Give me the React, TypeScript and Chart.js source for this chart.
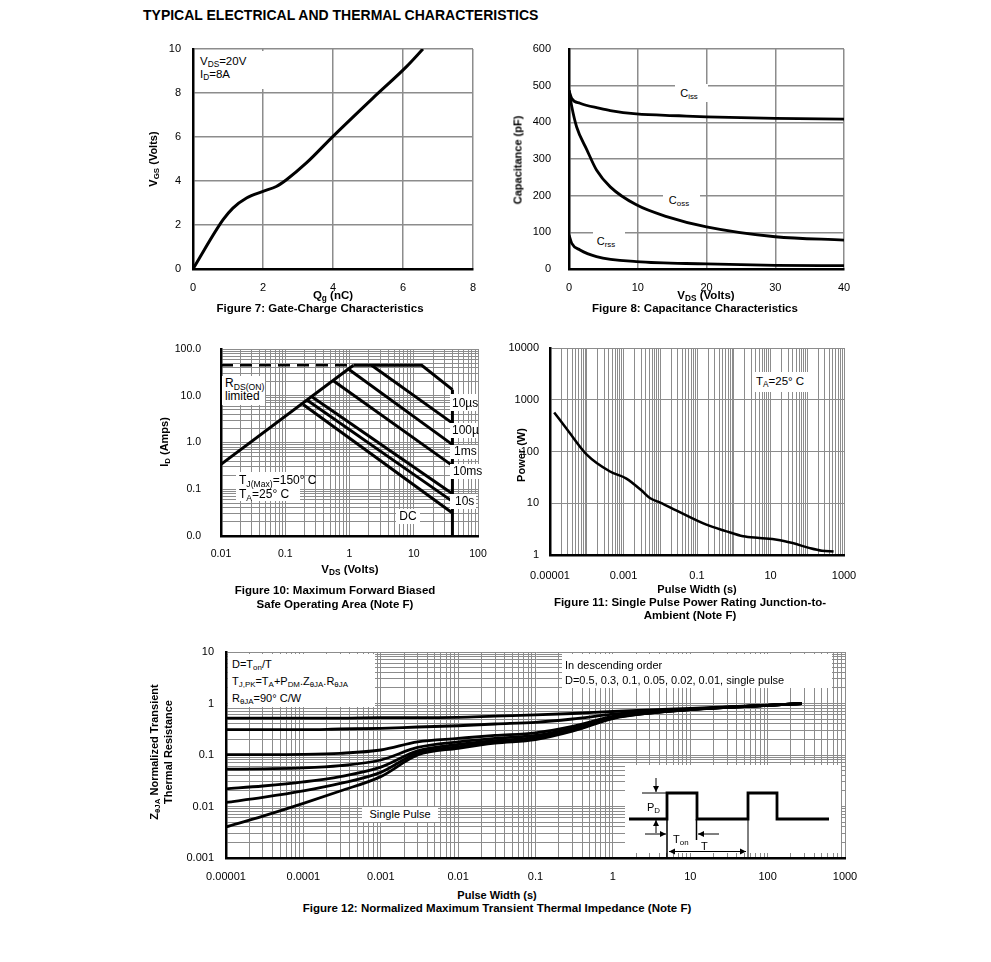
import React, { useEffect, useRef } from 'react';
import { Chart, registerables } from 'chart.js';
Chart.register(...registerables);

const FONT = "'Liberation Sans', Arial, Helvetica, sans-serif";
const GRID = '#8c8c8c';

// ---------- Figure 7: Gate charge ----------
const fig7Qg = [0, 0.86, 1.14, 1.53, 2.0, 2.38, 2.67, 3.24, 4.0, 5.14, 6.1, 6.57];
const fig7Vgs = [0, 2.24, 2.77, 3.23, 3.53, 3.75, 4.06, 4.82, 6.03, 7.77, 9.2, 10.0];
const fig7XTicks = [0, 2, 4, 6, 8];
const fig7YTicks = [0, 2, 4, 6, 8, 10];

// ---------- Figure 8: Capacitance ----------
const fig8CissV = [0, 0.4, 1.6, 4.5, 6, 9.8, 16, 20, 30, 40];
const fig8Ciss = [487, 465, 452, 438, 432, 423, 418, 415, 411, 409];
const fig8CossV = [0, 0.4, 1.1, 2.6, 4, 6, 9.8, 14.2, 20, 30, 40];
const fig8Coss = [487, 443, 388, 325, 270, 224, 175, 143, 115, 88, 79];
const fig8CrssV = [0, 0.4, 1.6, 4, 9.8, 20, 30, 40];
const fig8Crss = [93, 70, 52, 34, 20, 14, 10, 9];
const fig8XTicks = [0, 10, 20, 30, 40];
const fig8YTicks = [0, 100, 200, 300, 400, 500, 600];

// ---------- Figure 10: SOA ----------
const fig10LimitV = [0.01, 1.15];
const fig10LimitI = [45, 45];
const fig10RdsV = [0.01, 1.15];
const fig10RdsI = [0.34, 45];
const fig10P10usV = [1.15, 13.3, 40];
const fig10P10usI = [45, 45, 13.5];
const fig10P100usV = [2.2, 40];
const fig10P100usI = [45, 2.6];
const fig10P1msV = [0.96, 40];
const fig10P1msI = [37.5, 0.9];
const fig10P10msV = [0.56, 40];
const fig10P10msI = [21, 0.32];
const fig10P100msV = [0.26, 40];
const fig10P100msI = [9.5, 0.08];
const fig10P10sV = [0.22, 40];
const fig10P10sI = [8.0, 0.055];
const fig10DcV = [0.19, 40];
const fig10DcI = [6.5, 0.031];
const fig10VmaxV = [40, 40];
const fig10VmaxI = [0.01, 13.5];
const fig10XTickValues = [0.01, 0.1, 1, 10, 100];
const fig10XTickLabels = ['0.01', '0.1', '1', '10', '100'];
const fig10YTickValues = [0.01, 0.1, 1, 10, 100];
const fig10YTickLabels = ['0.0', '0.1', '1.0', '10.0', '100.0'];

// ---------- Figure 11: Single pulse power ----------
const fig11T = [1.3e-5, 3e-5, 1e-4, 4.3e-4, 1.2e-3, 3e-3, 5.2e-3, 0.01, 0.028, 0.18, 0.6, 1.8, 5, 15, 40, 118, 250, 520];
const fig11P = [570, 260, 87, 41, 30, 18, 12.6, 10.3, 7.2, 3.85, 2.9, 2.3, 2.13, 1.98, 1.7, 1.36, 1.21, 1.17];
const fig11XTickValues = [1e-5, 1e-3, 0.1, 10, 1000];
const fig11XTickLabels = ['0.00001', '0.001', '0.1', '10', '1000'];
const fig11YTickValues = [1, 10, 100, 1000, 10000];
const fig11YTickLabels = ['1', '10', '100', '1000', '10000'];

// ---------- Figure 12: Transient thermal impedance ----------
const fig12X = [1e-5, 3e-5, 1e-4, 3e-4, 1e-3, 3e-3, 1e-2, 3e-2, 0.1, 0.3, 1, 3, 10, 30, 100, 275];
const fig12D050 = [0.52, 0.52, 0.52, 0.52, 0.53, 0.53, 0.54, 0.57, 0.6, 0.64, 0.7, 0.75, 0.8, 0.86, 0.93, 1.0];
const fig12D030 = [0.31, 0.31, 0.31, 0.32, 0.33, 0.35, 0.37, 0.4, 0.43, 0.5, 0.62, 0.7, 0.78, 0.85, 0.92, 1.0];
const fig12D010 = [0.102, 0.102, 0.103, 0.108, 0.125, 0.18, 0.21, 0.24, 0.27, 0.36, 0.56, 0.68, 0.77, 0.85, 0.92, 1.0];
const fig12D005 = [0.053, 0.054, 0.056, 0.062, 0.08, 0.14, 0.18, 0.21, 0.24, 0.33, 0.54, 0.67, 0.77, 0.84, 0.92, 1.0];
const fig12D002 = [0.022, 0.025, 0.03, 0.038, 0.058, 0.12, 0.16, 0.19, 0.22, 0.31, 0.53, 0.66, 0.76, 0.84, 0.92, 1.0];
const fig12D001 = [0.012, 0.015, 0.02, 0.028, 0.046, 0.11, 0.145, 0.18, 0.21, 0.3, 0.52, 0.65, 0.76, 0.84, 0.92, 1.0];
const fig12Single = [0.004, 0.0065, 0.0115, 0.02, 0.038, 0.1, 0.135, 0.17, 0.2, 0.29, 0.51, 0.65, 0.76, 0.84, 0.92, 1.0];
const fig12XTickValues = [1e-5, 1e-4, 1e-3, 0.01, 0.1, 1, 10, 100, 1000];
const fig12XTickLabels = ['0.00001', '0.0001', '0.001', '0.01', '0.1', '1', '10', '100', '1000'];
const fig12YTickValues = [0.001, 0.01, 0.1, 1, 10];
const fig12YTickLabels = ['0.001', '0.01', '0.1', '1', '10'];

// ---------- helpers ----------
function logGrid(minExp: number, maxExp: number, minor = true) {
  const out: number[] = [];
  for (let e = minExp; e < maxExp; e++) {
    const b = Math.pow(10, e);
    if (minor) for (let m = 1; m < 10; m++) out.push(m * b);
    else out.push(b);
  }
  out.push(Math.pow(10, maxExp));
  return out;
}

function labeler(values: number[], labels: string[]) {
  return (v: number) => {
    for (let i = 0; i < values.length; i++) {
      if (Math.abs(v - values[i]) <= Math.abs(values[i]) * 1e-6 + 1e-12) return labels[i];
    }
    return '';
  };
}

function axis(o: any) {
  return {
    type: o.type,
    min: o.min,
    max: o.max,
    afterBuildTicks: (s: any) => {
      s.ticks = o.grid.map((v: number) => ({ value: v }));
    },
    afterFit: (s: any) => {
      if (o.axis === 'x') {
        s.height = o.size;
        s.paddingLeft = 0;
        s.paddingRight = 0;
      } else {
        s.width = o.size;
        s.paddingTop = 0;
        s.paddingBottom = 0;
      }
    },
    ticks: {
      autoSkip: false,
      maxRotation: 0,
      minRotation: 0,
      padding: o.padding,
      color: '#000',
      font: { family: FONT, size: o.fontSize || 11 },
      callback: labeler(o.tickValues, o.tickLabels),
    },
    grid: { color: GRID, lineWidth: o.gridWidth || 1, drawTicks: false },
    border: { color: '#000', width: 2.5 },
  };
}

function series(xs: number[], ys: number[], extra: any = {}) {
  return {
    data: xs.map((x, i) => ({ x, y: ys[i] })),
    borderColor: '#000',
    borderWidth: 2.5,
    pointRadius: 0,
    fill: false,
    tension: 0.4,
    cubicInterpolationMode: 'monotone',
    ...extra,
  };
}

function config(datasets: any[], x: any, y: any, pad: { top: number; right: number }, plugins: any[] = []) {
  return {
    type: 'line',
    data: { datasets },
    options: {
      responsive: false,
      animation: false,
      events: [],
      layout: { padding: { top: pad.top, right: pad.right, left: 0, bottom: 0 } },
      plugins: { legend: { display: false }, tooltip: { enabled: false } },
      scales: { x, y },
    },
    plugins,
  };
}

function arrow(ctx: CanvasRenderingContext2D, x1: number, y1: number, x2: number, y2: number, both = false) {
  ctx.beginPath();
  ctx.moveTo(x1, y1);
  ctx.lineTo(x2, y2);
  ctx.stroke();
  const head = (ax: number, ay: number, bx: number, by: number) => {
    const ang = Math.atan2(by - ay, bx - ax);
    const L = 6, W = 3;
    ctx.beginPath();
    ctx.moveTo(bx, by);
    ctx.lineTo(bx - L * Math.cos(ang) + W * Math.sin(ang), by - L * Math.sin(ang) - W * Math.cos(ang));
    ctx.lineTo(bx - L * Math.cos(ang) - W * Math.sin(ang), by - L * Math.sin(ang) + W * Math.cos(ang));
    ctx.closePath();
    ctx.fill();
  };
  head(x1, y1, x2, y2);
  if (both) head(x2, y2, x1, y1);
}

// pulse-train schematic inside figure 12 (offsets relative to chart area)
const insetPlugin = {
  id: 'pulseInset',
  afterDatasetsDraw(chart: any) {
    const { ctx, chartArea: a } = chart;
    const X = (d: number) => a.left + d;
    const Y = (d: number) => a.top + d;
    ctx.save();
    ctx.fillStyle = '#fff';
    ctx.fillRect(X(399), Y(113), 216, 88);
    ctx.strokeStyle = '#000';
    ctx.fillStyle = '#000';
    ctx.lineJoin = 'miter';
    ctx.lineWidth = 2.8;
    ctx.beginPath();
    const wave = [[403, 167], [441, 167], [441, 141], [471, 141], [471, 167], [522, 167], [522, 141], [551, 141], [551, 167], [603, 167]];
    wave.forEach(([px, py], i) => (i ? ctx.lineTo(X(px), Y(py)) : ctx.moveTo(X(px), Y(py))));
    ctx.stroke();
    ctx.lineWidth = 1.5;
    ctx.beginPath();
    ctx.moveTo(X(441), Y(167)); ctx.lineTo(X(441), Y(206));
    ctx.moveTo(X(470.5), Y(167)); ctx.lineTo(X(470.5), Y(188));
    ctx.stroke();
    ctx.lineWidth = 1;
    ctx.beginPath();
    ctx.moveTo(X(522), Y(167)); ctx.lineTo(X(522), Y(206));
    ctx.moveTo(X(416), Y(141)); ctx.lineTo(X(441), Y(141));
    ctx.stroke();
    arrow(ctx, X(430), Y(126), X(430), Y(140));
    arrow(ctx, X(430), Y(181), X(430), Y(168));
    arrow(ctx, X(419), Y(182), X(440), Y(182));
    arrow(ctx, X(493), Y(182), X(472), Y(182));
    arrow(ctx, X(443), Y(199.5), X(520), Y(199.5), true);
    ctx.restore();
  },
};

// ---------- components ----------
function ChartBox({ left, top, width, height, build }: any) {
  const ref = useRef<HTMLCanvasElement>(null);
  useEffect(() => {
    const c = new Chart(ref.current as HTMLCanvasElement, build());
    return () => c.destroy();
  }, []);
  return (
    <canvas
      ref={ref}
      width={width}
      height={height}
      style={{ position: 'absolute', left, top, width, height, display: 'block' }}
    />
  );
}

const S = ({ children }: any) => (
  <span style={{ fontSize: '0.72em', position: 'relative', top: '0.3em' }}>{children}</span>
);

function Txt({ x, y, children, align = 'left', size = 11, bold = false, rotate = false, lh = 1 }: any) {
  let tf = align === 'center' ? 'translate(-50%,-50%)' : 'translate(0,-50%)';
  if (rotate) tf = 'translate(-50%,-50%) rotate(-90deg)';
  return (
    <div
      style={{
        position: 'absolute',
        left: x,
        top: y,
        transform: tf,
        whiteSpace: 'nowrap',
        fontSize: size,
        fontWeight: bold ? 'bold' : 'normal',
        lineHeight: lh,
        textAlign: align === 'center' || rotate ? 'center' : 'left',
      }}
    >
      {children}
    </div>
  );
}

const WBox = ({ x, y, w, h }: any) => (
  <div style={{ position: 'absolute', left: x, top: y, width: w, height: h, background: '#fff' }} />
);

// ---------- chart builders ----------
const build7 = () =>
  config(
    [series(fig7Qg, fig7Vgs, { tension: 0.3, borderWidth: 3 })],
    axis({ axis: 'x', type: 'linear', min: 0, max: 8, grid: fig7XTicks, tickValues: fig7XTicks, tickLabels: fig7XTicks.map(String), size: 30, padding: 12, gridWidth: 1.5 }),
    axis({ axis: 'y', type: 'linear', min: 0, max: 10, grid: fig7YTicks, tickValues: fig7YTicks, tickLabels: fig7YTicks.map(String), size: 50, padding: 12, gridWidth: 1.5 }),
    { top: 10, right: 30 }
  );

const build8 = () =>
  config(
    [series(fig8CissV, fig8Ciss, { borderWidth: 2.8 }), series(fig8CossV, fig8Coss, { borderWidth: 2.8 }), series(fig8CrssV, fig8Crss, { borderWidth: 2.8 })],
    axis({ axis: 'x', type: 'linear', min: 0, max: 40, grid: fig8XTicks, tickValues: fig8XTicks, tickLabels: fig8XTicks.map(String), size: 30, padding: 12, gridWidth: 1.5 }),
    axis({ axis: 'y', type: 'linear', min: 0, max: 600, grid: fig8YTicks, tickValues: fig8YTicks, tickLabels: fig8YTicks.map(String), size: 70, padding: 18, gridWidth: 1.5 }),
    { top: 10, right: 30 }
  );

const build10 = () => {
  const st = { tension: 0, cubicInterpolationMode: 'default', borderWidth: 3, borderJoinStyle: 'miter' };
  return config(
    [
      series(fig10LimitV, fig10LimitI, { ...st, borderWidth: 2.5, borderDash: [12, 7] }),
      series(fig10RdsV, fig10RdsI, st),
      series(fig10P10usV, fig10P10usI, st),
      series(fig10P100usV, fig10P100usI, st),
      series(fig10P1msV, fig10P1msI, st),
      series(fig10P10msV, fig10P10msI, st),
      series(fig10P100msV, fig10P100msI, st),
      series(fig10P10sV, fig10P10sI, st),
      series(fig10DcV, fig10DcI, st),
      series(fig10VmaxV, fig10VmaxI, st),
    ],
    axis({ axis: 'x', type: 'logarithmic', min: 0.01, max: 100, grid: logGrid(-2, 2), tickValues: fig10XTickValues, tickLabels: fig10XTickLabels, size: 30, padding: 12, fontSize: 10.5 }),
    axis({ axis: 'y', type: 'logarithmic', min: 0.01, max: 100, grid: logGrid(-2, 2), tickValues: fig10YTickValues, tickLabels: fig10YTickLabels, size: 50, padding: 20, fontSize: 10.5 }),
    { top: 10, right: 20 }
  );
};

const build11 = () =>
  config(
    [series(fig11T, fig11P)],
    axis({ axis: 'x', type: 'logarithmic', min: 1e-5, max: 1000, grid: logGrid(-5, 3), tickValues: fig11XTickValues, tickLabels: fig11XTickLabels, size: 35, padding: 14 }),
    axis({ axis: 'y', type: 'logarithmic', min: 1, max: 10000, grid: logGrid(0, 4, false), tickValues: fig11YTickValues, tickLabels: fig11YTickLabels, size: 55, padding: 11 }),
    { top: 10, right: 25 }
  );

const build12 = () =>
  config(
    [fig12D050, fig12D030, fig12D010, fig12D005, fig12D002, fig12D001, fig12Single].map((ys) => series(fig12X, ys, { borderWidth: 2.8 })),
    axis({ axis: 'x', type: 'logarithmic', min: 1e-5, max: 1000, grid: logGrid(-5, 3), tickValues: fig12XTickValues, tickLabels: fig12XTickLabels, size: 30, padding: 12 }),
    axis({ axis: 'y', type: 'logarithmic', min: 0.001, max: 10, grid: logGrid(-3, 1), tickValues: fig12YTickValues, tickLabels: fig12YTickLabels, size: 50, padding: 12 }),
    { top: 10, right: 25 },
    [insetPlugin]
  );

export default function App() {
  return (
    <div
      style={{
        position: 'absolute',
        left: 0,
        top: 0,
        width: 991,
        height: 962,
        background: '#fff',
        fontFamily: FONT,
        color: '#000',
        overflow: 'hidden',
      }}
    >
      <ChartBox left={143} top={39} width={360} height={260} build={build7} />
      <ChartBox left={499} top={39} width={375} height={260} build={build8} />
      <ChartBox left={171} top={339} width={327} height={227} build={build10} />
      <ChartBox left={495} top={338} width={374} height={252} build={build11} />
      <ChartBox left={176} top={642} width={694} height={246} build={build12} />

      <Txt x={143} y={15} size={14} bold>TYPICAL ELECTRICAL AND THERMAL CHARACTERISTICS</Txt>

      {/* Figure 7 */}
      <WBox x={195} y={51} w={71} h={38} />
      <Txt x={200} y={62} size={11.5}>V<S>DS</S>=20V</Txt>
      <Txt x={200} y={75} size={11.5}>I<S>D</S>=8A</Txt>
      <Txt x={153} y={159} size={11} bold rotate>V<S>GS</S> (Volts)</Txt>
      <Txt x={333} y={296} size={11.5} bold align="center">Q<S>g</S> (nC)</Txt>
      <Txt x={320} y={309} size={11.5} bold align="center">Figure 7: Gate-Charge Characteristics</Txt>

      {/* Figure 8 */}
      <WBox x={675} y={84} w={33} h={18} />
      <Txt x={689} y={93} size={11} align="center">C<S>iss</S></Txt>
      <WBox x={663} y={192} w={37} h={18} />
      <Txt x={679} y={200} size={11} align="center">C<S>oss</S></Txt>
      <WBox x={593} y={232} w={32} h={18} />
      <Txt x={606} y={241} size={11} align="center">C<S>rss</S></Txt>
      <Txt x={518} y={160} size={11} bold rotate>Capacitance (pF)</Txt>
      <Txt x={706} y={296} size={11.5} bold align="center">V<S>DS</S> (Volts)</Txt>
      <Txt x={695} y={309} size={11.5} bold align="center">Figure 8: Capacitance Characteristics</Txt>

      {/* Figure 10 */}
      <WBox x={222} y={376} w={43} h={29} />
      <Txt x={225} y={383} size={12}>R<S>DS(ON)</S></Txt>
      <Txt x={225} y={396} size={12}>limited</Txt>
      <WBox x={236} y={472} w={64} h={29} />
      <Txt x={239} y={480} size={12}>T<S>J(Max)</S>=150° C</Txt>
      <Txt x={239} y={494} size={12}>T<S>A</S>=25° C</Txt>
      <WBox x={450} y={394} w={28} h={17} />
      <Txt x={452} y={403} size={12}>10µs</Txt>
      <WBox x={450} y={423} w={28} h={15} />
      <Txt x={452} y={430} size={12}>100µ</Txt>
      <WBox x={450} y={445} w={28} h={14} />
      <Txt x={454} y={451} size={12}>1ms</Txt>
      <WBox x={450} y={464} w={33} h={15} />
      <Txt x={453} y={471} size={12}>10ms</Txt>
      <WBox x={450} y={494} w={26} h={15} />
      <Txt x={455} y={501} size={12}>10s</Txt>
      <WBox x={396} y={509} w={24} h={15} />
      <Txt x={408} y={516} size={12} align="center">DC</Txt>
      <Txt x={164} y={442} size={11} bold rotate>I<S>D</S> (Amps)</Txt>
      <Txt x={350} y={570} size={11.5} bold align="center">V<S>DS</S> (Volts)</Txt>
      <Txt x={335} y={591} size={11.5} bold align="center">Figure 10: Maximum Forward Biased</Txt>
      <Txt x={335} y={605} size={11.5} bold align="center">Safe Operating Area (Note F)</Txt>

      {/* Figure 11 */}
      <WBox x={752} y={372} w={62} h={20} />
      <Txt x={756} y={382} size={11.5}>T<S>A</S>=25° C</Txt>
      <Txt x={521} y={455} size={11} bold rotate>Power (W)</Txt>
      <Txt x={697} y={589} size={11} bold align="center">Pulse Width (s)</Txt>
      <Txt x={690} y={603} size={11.5} bold align="center">Figure 11: Single Pulse Power Rating Junction-to-</Txt>
      <Txt x={690} y={616} size={11.5} bold align="center">Ambient (Note F)</Txt>

      {/* Figure 12 */}
      <WBox x={228} y={654} w={147} h={53} />
      <Txt x={232} y={664} size={11}>D=T<S>on</S>/T</Txt>
      <Txt x={232} y={681} size={11}>T<S>J,PK</S>=T<S>A</S>+P<S>DM</S>.Z<S>θJA</S>.R<S>θJA</S></Txt>
      <Txt x={232} y={698} size={11}>R<S>θJA</S>=90° C/W</Txt>
      <WBox x={562} y={654} w={270} h={34} />
      <Txt x={565} y={665} size={11}>In descending order</Txt>
      <Txt x={565} y={680} size={11}>D=0.5, 0.3, 0.1, 0.05, 0.02, 0.01, single pulse</Txt>
      <WBox x={362} y={807} w={76} h={15} />
      <Txt x={400} y={814} size={11} align="center">Single Pulse</Txt>
      <Txt x={647} y={807} size={11}>P<S>D</S></Txt>
      <Txt x={673} y={839} size={11}>T<S>on</S></Txt>
      <Txt x={701} y={846} size={11}>T</Txt>
      <div style={{ position: 'absolute', left: 161, top: 752, transform: 'translate(-50%,-50%) rotate(-90deg)', whiteSpace: 'nowrap', fontSize: 11, fontWeight: 'bold', lineHeight: '13px', textAlign: 'center' }}>
        <div>Z<S>θJA</S> Normalized Transient</div>
        <div>Thermal Resistance</div>
      </div>
      <Txt x={497} y={895} size={11} bold align="center">Pulse Width (s)</Txt>
      <Txt x={497} y={909} size={11.5} bold align="center">Figure 12: Normalized Maximum Transient Thermal Impedance (Note F)</Txt>
    </div>
  );
}
